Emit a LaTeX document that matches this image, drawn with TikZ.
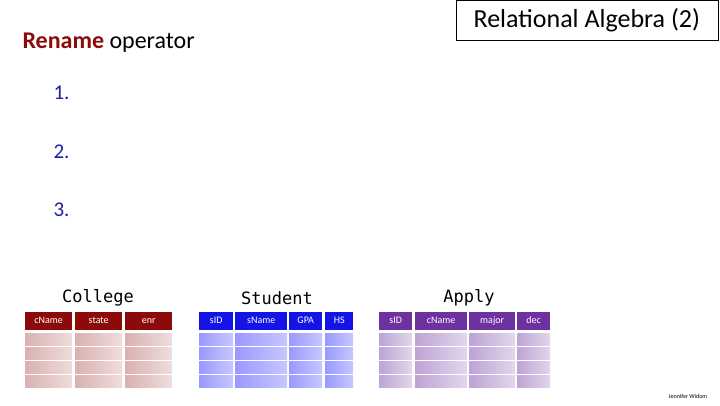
\documentclass[tikz,border=0pt]{standalone}
\usepackage{fontspec}
\setmainfont{Carlito}
\setmonofont{DejaVu Sans Mono}
\definecolor{colred}{RGB}{140,10,10}
\definecolor{stublue}{RGB}{20,20,230}
\definecolor{apppurple}{RGB}{110,50,160}
\definecolor{numblue}{RGB}{30,30,170}
\tikzstyle{hd}=[anchor=north west,inner sep=0pt,text=white,font=\fontsize{10}{10}\selectfont,align=center,text height=7pt,text depth=2pt]
\tikzstyle{ttl}=[font=\ttfamily\fontsize{17}{17}\selectfont]
\tikzstyle{num}=[anchor=west,text=numblue,font=\fontsize{21}{21}\selectfont]
\begin{document}
\begin{tikzpicture}[x=1pt,y=-1pt]
\useasboundingbox (0,0) rectangle (720,405);
\node[draw=black,anchor=north east,minimum width=262,minimum height=40,inner sep=0pt,font=\fontsize{26}{26}\selectfont] (title) at (718,0) {Relational Algebra (2)};
\node[anchor=west,font=\fontsize{24}{24}\selectfont] (sub) at (19,43) {\textcolor{colred}{\textbf{Rename}} operator};
\node[num] (n1) at (50,93) {1.};
\node[num] (n2) at (50,152) {2.};
\node[num] (n3) at (50,210) {3.};
% College
\node[ttl] (tcol) at (98,298) {College};
\foreach \x/\w/\t in {25/47/cName,75/47/state,125/47/enr}{
  \node[hd,fill=colred,minimum width=\w,minimum height=18] at (\x,312) {\t};
  \foreach \y in {333,347,361,375}
    \shade[left color=colred!32,right color=colred!14] (\x,\y) rectangle ++(\w,12);
}
% Student
\node[ttl] (tstu) at (277,298) {Student};
\foreach \x/\w/\t in {199/34/sID,235/52/sName,289/33/GPA,325/28/HS}{
  \node[hd,fill=stublue,minimum width=\w,minimum height=18] at (\x,312) {\t};
  \foreach \y in {333,347,361,375}
    \shade[left color=blue!40,right color=blue!22] (\x,\y) rectangle ++(\w,12);
}
% Apply
\node[ttl] (tapp) at (469,298) {Apply};
\foreach \x/\w/\t in {379/33/sID,415/52/cName,469/46/major,517/33/dec}{
  \node[hd,fill=apppurple,minimum width=\w,minimum height=18] at (\x,312) {\t};
  \foreach \y in {333,347,361,375}
    \shade[left color=apppurple!45,right color=apppurple!20] (\x,\y) rectangle ++(\w,12);
}
\node[font=\fontsize{6}{6}\selectfont] (auth) at (688,396) {Jennifer Widom};
\end{tikzpicture}
\end{document}
